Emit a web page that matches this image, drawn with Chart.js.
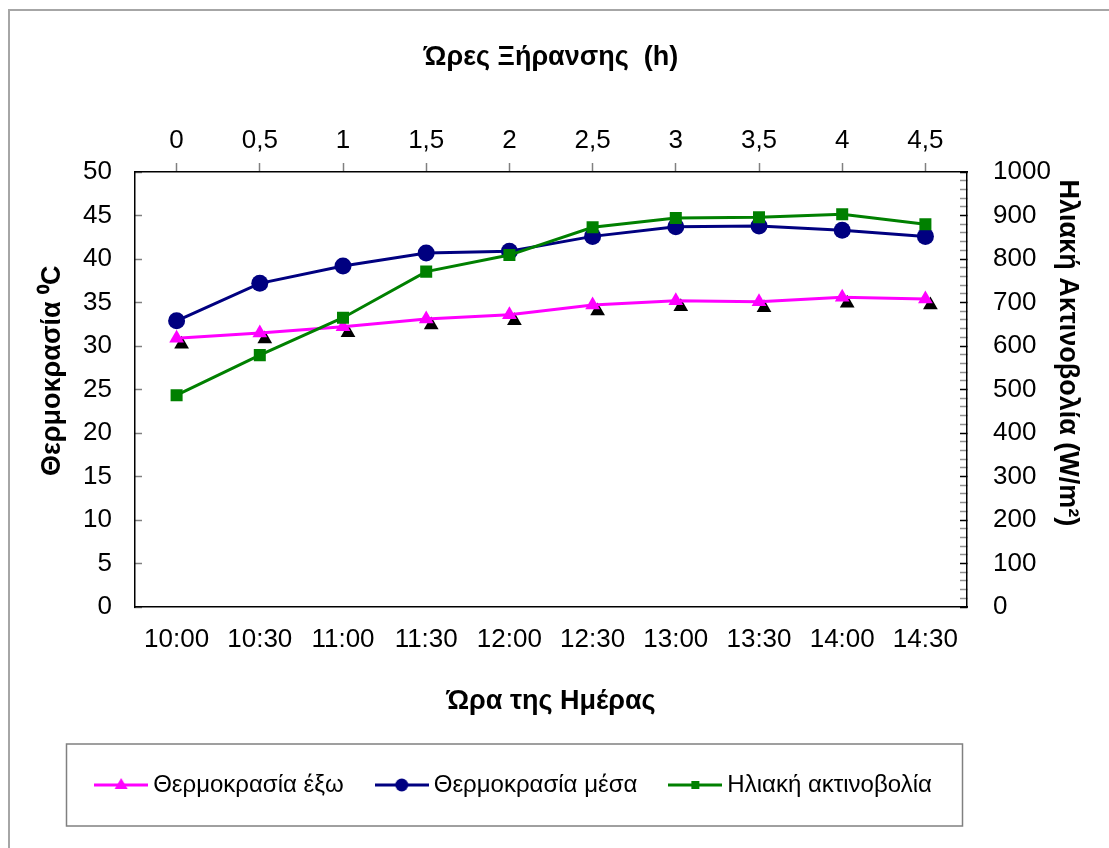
<!DOCTYPE html>
<html lang="el">
<head>
<meta charset="utf-8">
<title>Θερμοκρασία και ηλιακή ακτινοβολία</title>
<script src="https://cdn.jsdelivr.net/npm/chart.js@4/dist/chart.umd.min.js"></script>
<style>
  html, body { margin: 0; padding: 0; background: #fff; }
  #wrap { position: relative; width: 1109px; height: 848px; overflow: hidden; }
  #frame { position: absolute; left: 8px; top: 9px; width: 1200px; height: 900px;
           border-left: 2px solid #a6a6a6; border-top: 2px solid #a6a6a6; }
  #chart { position: absolute; left: 0; top: 0; }
</style>
</head>
<body>
<div id="wrap">
  <div id="frame"></div>
  <canvas id="chart" width="1109" height="848"></canvas>
</div>
<script>
// ώρα της ημέρας (κάτω άξονας) και ώρες ξήρανσης (πάνω άξονας)
const times = ['10:00', '10:30', '11:00', '11:30', '12:00', '12:30', '13:00', '13:30', '14:00', '14:30'];
const hours = ['0', '0,5', '1', '1,5', '2', '2,5', '3', '3,5', '4', '4,5'];

// θερμοκρασίες σε °C
const tempOut = [30.9, 31.5, 32.2, 33.1, 33.6, 34.7, 35.2, 35.1, 35.6, 35.4];
const tempIn = [32.9, 37.2, 39.2, 40.7, 40.9, 42.6, 43.7, 43.8, 43.3, 42.6];

// ηλιακή ακτινοβολία σε W/m2
const radiation = [487, 579, 665, 771, 809, 873, 894, 896, 903, 880];

const FONT = '"Liberation Sans", Arial, sans-serif';
const MAGENTA = '#ff00ff';
const NAVY = '#000080';
const GREEN = '#008000';

// μικρό εικονίδιο γραμμής με σημάδι για το υπόμνημα
function legendIcon(color, style) {
  const c = document.createElement('canvas');
  c.width = 54; c.height = 18;
  const g = c.getContext('2d');
  g.strokeStyle = color;
  g.fillStyle = color;
  g.lineWidth = 3;
  g.beginPath(); g.moveTo(0, 9); g.lineTo(54, 9); g.stroke();
  g.beginPath();
  if (style === 'triangle') {
    g.moveTo(27, 2); g.lineTo(33.5, 13); g.lineTo(20.5, 13); g.closePath();
  } else if (style === 'circle') {
    g.arc(27, 9, 6.5, 0, Math.PI * 2);
  } else {
    g.rect(23, 5, 8, 8);
  }
  g.fill();
  return c;
}

// μαύρη σκιά κάτω από τα τρίγωνα της εξωτερικής θερμοκρασίας
const triangleShadow = {
  id: 'triangleShadow',
  beforeDatasetDraw(chart, args) {
    if (args.index !== 0) return;
    const ctx = chart.ctx;
    const r = 8.5;
    ctx.save();
    ctx.fillStyle = '#000';
    args.meta.data.forEach(pt => {
      const x = pt.x + 5, y = pt.y + 6;
      ctx.beginPath();
      for (let k = 0; k < 3; k++) {
        const a = k * 2 * Math.PI / 3;
        const px = x + Math.sin(a) * r, py = y - Math.cos(a) * r;
        if (k === 0) ctx.moveTo(px, py); else ctx.lineTo(px, py);
      }
      ctx.closePath();
      ctx.fill();
    });
    ctx.restore();
  }
};

// πλαίσιο του υπομνήματος και μετατόπιση προς τα αριστερά
const legendBox = {
  id: 'legendBox',
  afterLayout(chart) {
    const lg = chart.legend;
    lg.left -= 38;
    lg.right -= 38;
  },
  afterDraw(chart) {
    const lg = chart.legend;
    const ctx = chart.ctx;
    ctx.save();
    ctx.strokeStyle = '#808080';
    ctx.lineWidth = 1.5;
    ctx.strokeRect(66.5, lg.top + 9, 896, 82);
    ctx.restore();
  }
};

const ctx = document.getElementById('chart').getContext('2d');
new Chart(ctx, {
  type: 'line',
  data: {
    labels: times,
    datasets: [
      {
        label: 'Θερμοκρασία έξω',
        data: tempOut,
        yAxisID: 'y',
        borderColor: MAGENTA,
        backgroundColor: MAGENTA,
        borderWidth: 3,
        pointStyle: 'triangle',
        pointRadius: 8.5,
        pointBorderWidth: 0,
        order: 1,
        icon: legendIcon(MAGENTA, 'triangle')
      },
      {
        label: 'Θερμοκρασία μέσα',
        data: tempIn,
        yAxisID: 'y',
        borderColor: NAVY,
        backgroundColor: NAVY,
        borderWidth: 3,
        pointStyle: 'circle',
        pointRadius: 8.5,
        pointBorderWidth: 0,
        order: 2,
        icon: legendIcon(NAVY, 'circle')
      },
      {
        label: 'Ηλιακή ακτινοβολία',
        data: radiation,
        yAxisID: 'y2',
        borderColor: GREEN,
        backgroundColor: GREEN,
        borderWidth: 3,
        pointStyle: 'rect',
        pointRadius: 8.5,
        pointBorderWidth: 0,
        order: 0,
        icon: legendIcon(GREEN, 'rect')
      }
    ]
  },
  options: {
    responsive: false,
    animation: false,
    layout: { padding: { left: 10, right: 10, top: 10, bottom: 41 } },
    plugins: {
      tooltip: { enabled: false },
      legend: {
        position: 'bottom',
        labels: {
          color: '#000',
          font: { family: FONT, size: 24 },
          padding: 38,
          usePointStyle: true,
          pointStyleWidth: 40,
          generateLabels(chart) {
            return chart.data.datasets.map((ds, i) => ({
              text: ds.label,
              datasetIndex: i,
              pointStyle: ds.icon,
              fillStyle: ds.borderColor,
              strokeStyle: ds.borderColor,
              lineWidth: 0,
              fontColor: '#000',
              hidden: false
            }));
          }
        }
      }
    },
    scales: {
      x: {
        type: 'category',
        position: 'bottom',
        offset: true,
        afterFit(s) { s.height = 128; },
        border: { color: '#000', width: 1.5 },
        grid: { drawOnChartArea: false, drawTicks: false },
        ticks: { color: '#000', font: { family: FONT, size: 26 }, padding: 17, maxRotation: 0, autoSkip: false },
        title: {
          display: true,
          text: 'Ώρα της Ημέρας',
          color: '#000',
          font: { family: FONT, size: 27, weight: 'bold' },
          padding: { top: 0, bottom: 17 }
        }
      },
      x2: {
        type: 'category',
        position: 'top',
        labels: hours,
        offset: true,
        afterFit(s) { s.height = 162; },
        border: { color: '#000', width: 1.5 },
        grid: { drawOnChartArea: false, tickLength: 9, tickColor: '#808080', tickWidth: 1.5 },
        ticks: { color: '#000', font: { family: FONT, size: 26 }, padding: 7, maxRotation: 0, autoSkip: false },
        title: {
          display: true,
          text: 'Ώρες Ξήρανσης  (h)',
          color: '#000',
          font: { family: FONT, size: 27, weight: 'bold' },
          padding: { top: 31, bottom: 0 }
        }
      },
      y: {
        position: 'left',
        min: 0,
        max: 50,
        afterFit(s) { s.width = 125; },
        border: { color: '#000', width: 1.5 },
        grid: { drawOnChartArea: false, tickLength: -7, tickColor: '#808080', tickWidth: 1.5 },
        ticks: { stepSize: 5, color: '#000', font: { family: FONT, size: 26 }, padding: 30 },
        title: {
          display: true,
          text: '     Θερμοκρασία ⁰C',
          color: '#000',
          font: { family: FONT, size: 27, weight: 'bold' },
          padding: { top: 26, bottom: 0 }
        }
      },
      y2: {
        position: 'right',
        min: 0,
        max: 1000,
        afterFit(s) { s.width = 132; },
        border: { color: '#000', width: 1.5 },
        grid: {
          drawOnChartArea: false,
          tickLength: -7,
          tickWidth: 1.5,
          tickColor: c => (c.tick && c.tick.value % 100 === 0) ? '#000' : '#909090'
        },
        ticks: {
          stepSize: 20,
          autoSkip: false,
          color: '#000',
          font: { family: FONT, size: 26 },
          padding: 33,
          callback: v => (v % 100 === 0 ? String(v) : '')
        },
        title: {
          display: true,
          text: ' Ηλιακή Ακτινοβολία (W/m²)',
          align: 'end',
          color: '#000',
          font: { family: FONT, size: 27, weight: 'bold' },
          padding: { top: 15, bottom: 0 }
        }
      }
    }
  },
  plugins: [triangleShadow, legendBox]
});
</script>
</body>
</html>
